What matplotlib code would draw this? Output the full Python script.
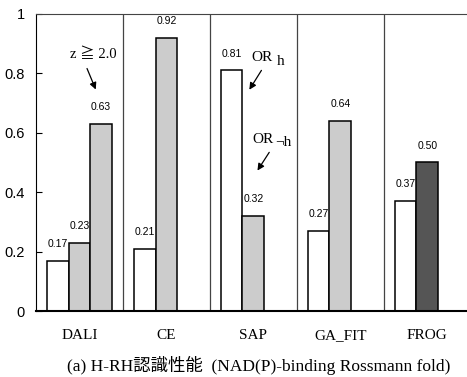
import matplotlib.pyplot as plt
import numpy as np

# data
methods = ['DALI', 'CE', 'SAP', 'GA_FIT', 'FROG']
white_vals = [0.17, 0.21, 0.81, 0.27, 0.37]      # OR_h style (white bars)
gray_vals = [0.23, 0.92, 0.32, 0.64, 0.50]       # second bar of each group
extra_vals = [0.63, None, None, None, None]      # DALI z >= 2.0
value_text = {0.17: '0.17', 0.23: '0.23', 0.63: '0.63', 0.21: '0.21', 0.92: '0.92',
              0.81: '0.81', 0.32: '0.32', 0.27: '0.27', 0.64: '0.64', 0.37: '0.37', 0.50: '0.50'}

serif = ['Liberation Serif', 'Noto Sans CJK JP']
sans = ['Liberation Sans', 'DejaVu Sans']

fig = plt.figure(figsize=(4.67, 3.77), dpi=100)
ax = fig.add_axes([0.077, 0.175, 0.931, 0.788])

w = 0.25
x0 = np.arange(len(methods)) + 0.125

def addlabel(x, v, dx=0.0, dy=0.04):
    ax.text(x + dx, v + dy, value_text[v], ha='center', va='bottom',
            fontsize=7.5, family=sans)

for i, m in enumerate(methods):
    ax.bar(x0[i], white_vals[i], w, align='edge', color='white',
           edgecolor='black', linewidth=1.1)
    col = '#555555' if m == 'FROG' else '#cccccc'
    ax.bar(x0[i] + w, gray_vals[i], w, align='edge', color=col,
           edgecolor='black', linewidth=1.1)
    addlabel(x0[i] + w / 2, white_vals[i])
    addlabel(x0[i] + 1.5 * w, gray_vals[i])
    if extra_vals[i] is not None:
        ax.bar(x0[i] + 2 * w, extra_vals[i], w, align='edge', color='#cccccc',
               edgecolor='black', linewidth=1.1)
        addlabel(x0[i] + 2.5 * w, extra_vals[i])

# group separators
for g in range(1, len(methods)):
    ax.axvline(g, color='#444444', linewidth=0.9)

ax.set_xlim(0, len(methods))
ax.set_ylim(0, 1)
ax.set_yticks([0, 0.2, 0.4, 0.6, 0.8, 1])
ax.set_yticklabels(['0', '0.2', '0.4', '0.6', '0.8', '1'], family=sans, fontsize=10.5)
ax.tick_params(axis='y', direction='in', length=4, pad=8)
ax.set_xticks(np.arange(len(methods)) + 0.5)
ax.set_xticklabels(methods, family=serif, fontsize=11)
ax.tick_params(axis='x', length=0, pad=13)
ax.spines['bottom'].set_linewidth(1.5)
ax.spines['top'].set_color('#444444')
ax.spines['right'].set_visible(False)

# annotations
arrow = dict(arrowstyle='-|>', color='black', lw=0.9, mutation_scale=10)
ax.annotate('', xy=(0.70, 0.737), xytext=(0.575, 0.825), arrowprops=arrow)
ax.text(0.655, 0.865, 'z ≧ 2.0', ha='center', va='center', fontsize=10.5, family=serif)

ax.annotate('', xy=(2.437, 0.737), xytext=(2.61, 0.818), arrowprops=arrow)
ax.text(2.6, 0.855, 'OR', ha='center', va='center', fontsize=11, family=serif)
ax.text(2.81, 0.84, 'h', ha='center', va='center', fontsize=11, family=serif)

ax.annotate('', xy=(2.53, 0.465), xytext=(2.70, 0.542), arrowprops=arrow)
ax.text(2.61, 0.578, 'OR', ha='center', va='center', fontsize=11, family=serif)
ax.text(2.85, 0.567, '¬h', ha='center', va='center', fontsize=11, family=serif)

fig.text(0.555, 0.03, '(a) H-RH認識性能  (NAD(P)-binding Rossmann fold)',
         ha='center', va='center', fontsize=12.5, family=serif)

fig.savefig('out.png', dpi=100)
